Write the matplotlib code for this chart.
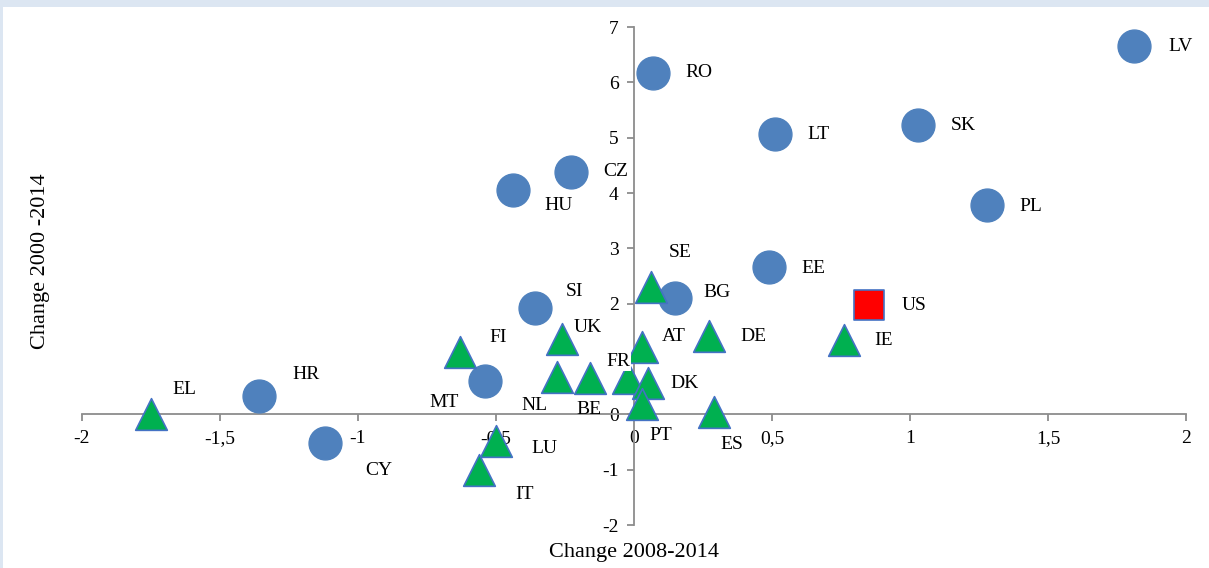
#!/usr/bin/env python3

import matplotlib
matplotlib.use('Agg')
import matplotlib.pyplot as plt
from matplotlib.patches import Rectangle
from matplotlib.ticker import FuncFormatter

# countries outside the euro area (circles)
circ_names = ['LV', 'RO', 'LT', 'SK', 'CZ', 'HU', 'PL', 'EE', 'BG', 'SI', 'MT', 'HR', 'CY']
circ_x = [1.81, 0.07, 0.51, 1.03, -0.23, -0.44, 1.28, 0.49, 0.15, -0.36, -0.54, -1.36, -1.12]
circ_y = [6.65, 6.17, 5.06, 5.23, 4.38, 4.05, 3.78, 2.66, 2.10, 1.92, 0.60, 0.33, -0.51]

# triangles
tri_names = ['EL', 'SE', 'UK', 'FI', 'AT', 'DE', 'IE', 'NL', 'BE', 'FR', 'DK', 'PT', 'ES', 'LU', 'IT']
tri_x = [-1.75, 0.06, -0.26, -0.63, 0.03, 0.27, 0.76, -0.28, -0.16, -0.02, 0.05, 0.03, 0.29, -0.50, -0.56]
tri_y = [0.00, 2.30, 1.37, 1.12, 1.21, 1.41, 1.34, 0.67, 0.65, 0.65, 0.56, 0.18, 0.04, -0.49, -1.01]

us_name = ['US']
us_x = [0.85]
us_y = [1.97]

# label offsets in pixels (dx, dy), y up
offs = {
    'LV': (47, 0), 'RO': (46, 0), 'LT': (44, 0), 'SK': (45, -1), 'CZ': (45, 0),
    'HU': (46, -15), 'PL': (44, -1), 'EE': (44, -1), 'BG': (42, 6), 'SI': (40, 17),
    'MT': (-41, -21), 'HR': (47, 22), 'CY': (54, -28),
    'EL': (33, 25), 'SE': (30, 35), 'UK': (25, 11), 'FI': (38, 15), 'AT': (31, 11),
    'DE': (45, 0), 'IE': (40, 0), 'NL': (-22, -28), 'BE': (-1, -31), 'FR': (-10, 17),
    'DK': (37, 0), 'PT': (18, -31), 'ES': (18, -32), 'LU': (48, -7), 'IT': (45, -24),
    'US': (45, 0),
}

plt.rcParams['font.family'] = ['Liberation Serif', 'DejaVu Serif']

fig = plt.figure(figsize=(12.09, 5.68), dpi=100)
fig.patches.append(Rectangle((0, 1 - 7 / 568), 1, 7 / 568, transform=fig.transFigure,
                             facecolor='#DCE6F2', edgecolor='none'))
fig.patches.append(Rectangle((0, 0), 3 / 1209, 1, transform=fig.transFigure,
                             facecolor='#DCE6F2', edgecolor='none'))

ax = fig.add_axes([82 / 1209, 1 - 525 / 568, 1104 / 1209, 498 / 568])
ax.set_xlim(-2, 2)
ax.set_ylim(-2, 7)

ax.scatter(circ_x, circ_y, s=560, marker='o', color='#4F81BD', edgecolors='#4F81BD', zorder=3)
ax.scatter(tri_x, tri_y, s=520, marker='^', color='#00B050', edgecolors='#4472C4',
           linewidths=1.2, zorder=3)
ax.scatter(us_x, us_y, s=470, marker='s', color='#FF0000', edgecolors='#4472C4',
           linewidths=1.2, zorder=3)

names = circ_names + tri_names + us_name
xs = circ_x + tri_x + us_x
ys = circ_y + tri_y + us_y
for n, x, y in zip(names, xs, ys):
    dx, dy = offs[n]
    t = ax.annotate(n, (x, y), xytext=(dx * 0.72, dy * 0.72), textcoords='offset points',
                    ha='center', va='center', fontsize=14, zorder=4)
    if n == 'FR':
        # label sits over the "1" tick label in the original
        t.set_bbox(dict(facecolor='white', edgecolor='none', pad=0.5))

for s in ['top', 'right']:
    ax.spines[s].set_visible(False)
ax.spines['left'].set_position(('data', 0))
ax.spines['bottom'].set_position(('data', 0))
ax.spines['left'].set_color('#8C8C8C')
ax.spines['bottom'].set_color('#8C8C8C')
ax.spines['left'].set_linewidth(1.3)
ax.spines['bottom'].set_linewidth(1.3)

ax.set_xticks([-2, -1.5, -1, -0.5, 0, 0.5, 1, 1.5, 2])
ax.set_yticks(range(-2, 8))
fmt = FuncFormatter(lambda v, p: ('%g' % v).replace('.', ','))
ax.xaxis.set_major_formatter(fmt)
ax.yaxis.set_major_formatter(fmt)
ax.tick_params(axis='both', direction='out', length=5, color='#8C8C8C', width=1.3,
               labelsize=14, pad=6)

ax.set_xlabel('Change 2008-2014', fontsize=16)
ax.xaxis.set_label_coords(0.5, -0.036)
ax.set_ylabel('Change 2000 -2014', fontsize=16)
ax.yaxis.set_label_coords(-0.029, 0.53)

fig.savefig('out.png', dpi=100)
